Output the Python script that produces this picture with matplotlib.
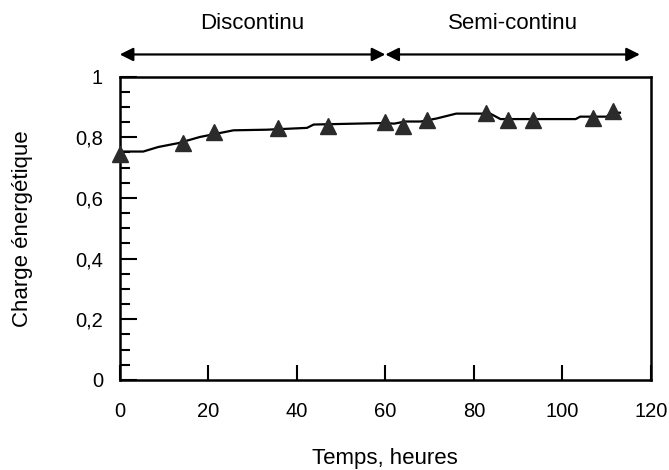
import matplotlib
matplotlib.use('Agg')
import matplotlib.pyplot as plt
from matplotlib.ticker import MultipleLocator, FuncFormatter

plt.rcParams['font.family'] = ['Liberation Sans', 'DejaVu Sans']

# mesures (triangles)
temps_mes = [0, 14.2, 21.2, 35.8, 47.0, 60.0, 64.1, 69.5, 82.8, 87.8, 93.3, 106.9, 111.5]
charge_mes = [0.745, 0.781, 0.816, 0.831, 0.838, 0.852, 0.838, 0.858, 0.880, 0.858, 0.858, 0.864, 0.888]

# courbe (trait continu)
temps_lin = [0, 5.3, 8.7, 13.3, 18.1, 25.7, 33.2, 42.3, 43.8, 59.6, 62, 64.5, 68, 71.6,
             76, 83.7, 86, 103, 104, 110, 111, 113]
charge_lin = [0.753, 0.753, 0.768, 0.781, 0.801, 0.823, 0.825, 0.831, 0.842, 0.847, 0.845,
              0.852, 0.852, 0.862, 0.878, 0.878, 0.860, 0.860, 0.868, 0.868, 0.881, 0.881]

phases = ['Discontinu', 'Semi-continu']
phase_lim = [(0, 60), (60, 117.5)]

fig = plt.figure(figsize=(6.69, 4.70), dpi=100)
ax = fig.add_axes([0.179, 0.1915, 0.794, 0.6455])

ax.plot(temps_lin, charge_lin, color='black', lw=1.6, zorder=2)
ax.plot(temps_mes, charge_mes, ls='none', marker='^', ms=11.5, color='#2b2b2b', zorder=3,
        clip_on=False)

ax.set_xlim(0, 120)
ax.set_ylim(0, 1)
ax.xaxis.set_major_locator(MultipleLocator(20))
ax.yaxis.set_major_locator(MultipleLocator(0.2))
ax.yaxis.set_minor_locator(MultipleLocator(0.05))
ax.yaxis.set_major_formatter(FuncFormatter(lambda v, p: ('%g' % round(v, 1)).replace('.', ',')))

for s in ax.spines.values():
    s.set_linewidth(1.8)
ax.tick_params(axis='x', which='major', direction='in', length=11, width=1.5,
               labelsize=14.5, pad=16)
ax.tick_params(axis='y', which='major', direction='in', length=12, width=1.5,
               labelsize=14.5, pad=12)
ax.tick_params(axis='y', which='minor', direction='in', length=7, width=1.5)

ax.set_xlabel('Temps, heures', fontsize=16)
ax.set_ylabel('Charge énergétique', fontsize=16)
ax.xaxis.set_label_coords(0.5, -0.225)
ax.yaxis.set_label_coords(-0.163, 0.5)

# fleches des phases
for nom, (a, b) in zip(phases, phase_lim):
    ax.annotate('', xy=(a, 1.073), xytext=(b, 1.073), xycoords='data',
                arrowprops=dict(arrowstyle='<|-|>', color='black', lw=1.6,
                                mutation_scale=20, shrinkA=0, shrinkB=0),
                annotation_clip=False)
    ax.text((a + b) / 2, 1.175, nom, ha='center', va='center', fontsize=16,
            transform=ax.transData, clip_on=False)

fig.savefig('out.png', dpi=100)
